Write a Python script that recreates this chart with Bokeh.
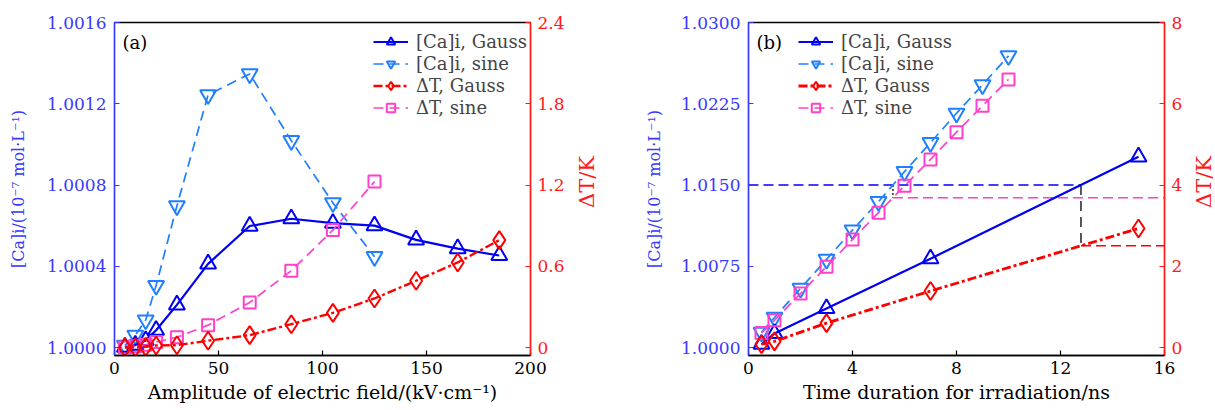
import math
import numpy as np
from bokeh.plotting import figure
from bokeh.models import (Range1d, LinearAxis, FixedTicker, PrintfTickFormatter,
                          NumeralTickFormatter, Legend, LegendItem, Label, Div)
from bokeh.layouts import row
from bokeh.embed import file_html
from bokeh.resources import INLINE

# ---------------- data: panel (a) ----------------
a_field = [5, 10, 15, 20, 30, 45, 65, 85, 105, 125, 145, 165, 185]
a_ca_gauss = [1.000002, 1.000012, 1.000035, 1.000085, 1.000210, 1.000412, 1.000598,
              1.000634, 1.000612, 1.000600, 1.000530, 1.000487, 1.000453]
a_dt_gauss = [0.0, 0.0, 0.005, 0.015, 0.017, 0.05, 0.091, 0.172, 0.256, 0.362, 0.493, 0.628, 0.793]
a_field_sine = [5, 10, 15, 20, 30, 45, 65, 85, 105, 125]
a_ca_sine = [1.000010, 1.000060, 1.000135, 1.000305, 1.000697, 1.001244, 1.001347,
             1.001018, 1.000712, 1.000447]
a_dt_sine = [0.0, 0.01, 0.02, 0.04, 0.076, 0.165, 0.333, 0.567, 0.867, 1.225]

a_x_ticks = [0, 50, 100, 150, 200]
a_left_ticks = [1.0000, 1.0004, 1.0008, 1.0012, 1.0016]
a_right_ticks = [0, 0.6, 1.2, 1.8, 2.4]

# ---------------- data: panel (b) ----------------
b_t_gauss = [0.5, 1, 3, 7, 15]
b_ca_gauss = [1.0003, 1.0013, 1.0036, 1.0082, 1.0176]
b_dt_gauss = [0.08, 0.15, 0.60, 1.39, 2.93]
b_t_sine = [0.5, 1, 2, 3, 4, 5, 6, 7, 8, 9, 10]
b_ca_sine = [1.00140, 1.00277, 1.00545, 1.00813, 1.01084, 1.01346, 1.01623,
             1.01891, 1.02162, 1.02424, 1.02692]
b_dt_sine = [0.36, 0.67, 1.33, 1.99, 2.66, 3.32, 3.98, 4.63, 5.30, 5.95, 6.60]
b_ca_level = 1.0150

b_x_ticks = [0, 4, 8, 12, 16]
b_left_ticks = [1.0000, 1.0075, 1.0150, 1.0225, 1.0300]
b_right_ticks = [0, 2, 4, 6, 8]

legend_labels = ["[Ca]i, Gauss", "[Ca]i, sine", "ΔT, Gauss", "ΔT, sine"]
left_title = "[Ca]i/(10⁻⁷ mol·L⁻¹)"
right_title = "ΔT/K"

# ---------------- styles ----------------
FONT = "DejaVu Serif"
C_GAUSS = "#0000F5"
C_SINE = "#1F7FFF"
C_DTG = "#FF0000"
C_DTS = "#FF40C8"
C_LEFT = "#3838FF"
C_RIGHT = "#FF1A1A"


def style_axis(ax, color, label, std=6, lstd=14, lsize="16px"):
    ax.axis_label = label
    ax.axis_line_color = color
    ax.axis_line_width = 1.3
    ax.major_tick_line_color = color
    ax.major_tick_line_width = 1.2
    ax.major_tick_in = 5
    ax.major_tick_out = 0
    ax.minor_tick_line_color = None
    ax.major_label_text_color = color
    ax.major_label_text_font = FONT
    ax.major_label_text_font_size = "17px"
    ax.major_label_standoff = std
    ax.axis_label_text_color = color
    ax.axis_label_text_font = FONT
    ax.axis_label_text_font_size = lsize
    ax.axis_label_text_font_style = "normal"
    ax.axis_label_standoff = lstd


def make_panel(width, border_left, border_right, xr, yl, yr, xticks, lticks, rticks,
               lfmt, rfmt, xlabel, tag, lstd):
    p = figure(width=width, height=410, output_backend="svg", toolbar_location=None,
               x_range=Range1d(*xr), y_range=Range1d(*yl),
               min_border_left=border_left, min_border_right=border_right,
               min_border_top=22, min_border_bottom=55)
    p.extra_y_ranges = {"right": Range1d(*yr)}
    p.grid.visible = False
    p.outline_line_color = "black"
    p.outline_line_width = 1.3
    p.background_fill_color = "white"
    p.border_fill_color = "white"

    p.xaxis.ticker = FixedTicker(ticks=xticks)
    style_axis(p.xaxis[0], "black", xlabel, std=6, lstd=4, lsize="19px")
    p.yaxis.ticker = FixedTicker(ticks=lticks)
    p.yaxis.formatter = lfmt
    style_axis(p.yaxis[0], C_LEFT, left_title, std=8, lstd=lstd, lsize="16px")

    ax_r = LinearAxis(y_range_name="right", ticker=FixedTicker(ticks=rticks), formatter=rfmt)
    style_axis(ax_r, C_RIGHT, None, std=7, lstd=8)
    p.add_layout(ax_r, "right")

    p.add_layout(Label(x=xr[0], y=yl[1], x_offset=8, y_offset=-9, text=tag,
                       text_baseline="top", text_font=FONT, text_font_size="18px",
                       text_color="black"))
    return p


def right_title_div(width):
    # vertical title reading bottom to top, centred on the plot frame
    html = ('<div style="width:%dpx;height:364px;display:flex;align-items:center;'
            'justify-content:center;">'
            '<span style="writing-mode:vertical-rl;transform:rotate(180deg);'
            'font-family:\'DejaVu Serif\';font-size:21px;color:%s;white-space:nowrap;'
            'line-height:1;">%s</span></div>') % (width, C_RIGHT, right_title)
    return Div(text=html, width=width, height=410, margin=0, disable_math=True)


def add_series(p, x, y, color, dash, lw, marker, size, rng=None):
    kw = {} if rng is None else {"y_range_name": rng}
    ln = p.line(x, y, line_color=color, line_dash=dash, line_width=lw, **kw)
    sc = p.scatter(x, y, marker=marker, size=size, fill_color=None, line_color=color,
                   line_width=2, **kw)
    return [ln, sc]


def add_legend(p, items, loc):
    lg = Legend(items=[LegendItem(label=l, renderers=r) for l, r in zip(legend_labels, items)],
                location=loc, padding=0, margin=0, spacing=1, border_line_color=None,
                background_fill_alpha=0, glyph_width=35, glyph_height=21, label_height=21,
                label_standoff=8, label_text_font=FONT, label_text_font_size="18px")
    p.add_layout(lg)


# ---------------- panel (a) ----------------
ext_a = 8 / 325
pa = make_panel(575, 114, 45, (0, 200),
                (1.0 - 0.0016 * ext_a, 1.0016), (-2.4 * ext_a, 2.4),
                a_x_ticks, a_left_ticks, a_right_ticks,
                PrintfTickFormatter(format="%.4f"), NumeralTickFormatter(format="0.[0]"),
                "Amplitude of electric field/(kV·cm⁻¹)", "(a)", 16)
ra_cs = add_series(pa, a_field_sine, a_ca_sine, C_SINE, "10 6", 1.7, "inverted_triangle", 16)
ra_cg = add_series(pa, a_field, a_ca_gauss, C_GAUSS, "solid", 2.2, "triangle", 16)
ra_ds = add_series(pa, a_field_sine, a_dt_sine, C_DTS, "10 6", 1.7, "square", 12, "right")
ra_dg = add_series(pa, a_field, a_dt_gauss, C_DTG, "9 3 3 3", 2.4, "diamond", 18, "right")
add_legend(pa, [ra_cg, ra_cs, ra_dg, ra_ds], (259, 237))

# ---------------- panel (b) ----------------
ext_b = 8 / 325
pb = make_panel(595, 149, 30, (0, 16),
                (1.0 - 0.03 * ext_b, 1.03), (-8 * ext_b, 8),
                b_x_ticks, b_left_ticks, b_right_ticks,
                PrintfTickFormatter(format="%.4f"), NumeralTickFormatter(format="0"),
                "Time duration for irradiation/ns", "(b)", 14)

# reference lines derived from the data
lvl_right = (b_ca_level - 1.0) / 0.03 * 8
tg = float(np.interp(b_ca_level, b_ca_gauss, b_t_gauss))
ts = float(np.interp(b_ca_level, b_ca_sine, b_t_sine))
dtg = float(np.interp(tg, b_t_gauss, b_dt_gauss))
dts = float(np.interp(ts, b_t_sine, b_dt_sine))
xmax_b = b_x_ticks[-1]
pb.line([b_x_ticks[0], tg], [b_ca_level, b_ca_level], line_color=C_GAUSS, line_dash="10 5", line_width=1.5)
pb.line([tg, tg], [lvl_right, dtg], y_range_name="right", line_color="black", line_dash="10 6", line_width=1.3)
pb.line([tg, xmax_b], [dtg, dtg], y_range_name="right", line_color=C_DTG, line_dash="10 5", line_width=1.5)
pb.line([ts, ts], [lvl_right, dts], y_range_name="right", line_color="black", line_dash="2 2", line_width=1.3)
pb.line([ts, xmax_b], [dts, dts], y_range_name="right", line_color=C_DTS, line_dash="10 5", line_width=1.5)

rb_cs = add_series(pb, b_t_sine, b_ca_sine, C_SINE, "10 6", 1.7, "inverted_triangle", 16)
rb_cg = add_series(pb, b_t_gauss, b_ca_gauss, C_GAUSS, "solid", 2.2, "triangle", 16)
rb_ds = add_series(pb, b_t_sine, b_dt_sine, C_DTS, "10 6", 1.7, "square", 12, "right")
rb_dg = add_series(pb, b_t_gauss, b_dt_gauss, C_DTG, "9 3 3 3", 2.8, "diamond", 18, "right")
add_legend(pb, [rb_cg, rb_cs, rb_dg, rb_ds], (50, 237))

layout = row(pa, right_title_div(24), pb, right_title_div(21), spacing=0)
open("out.html", "w").write(file_html(layout, INLINE))
